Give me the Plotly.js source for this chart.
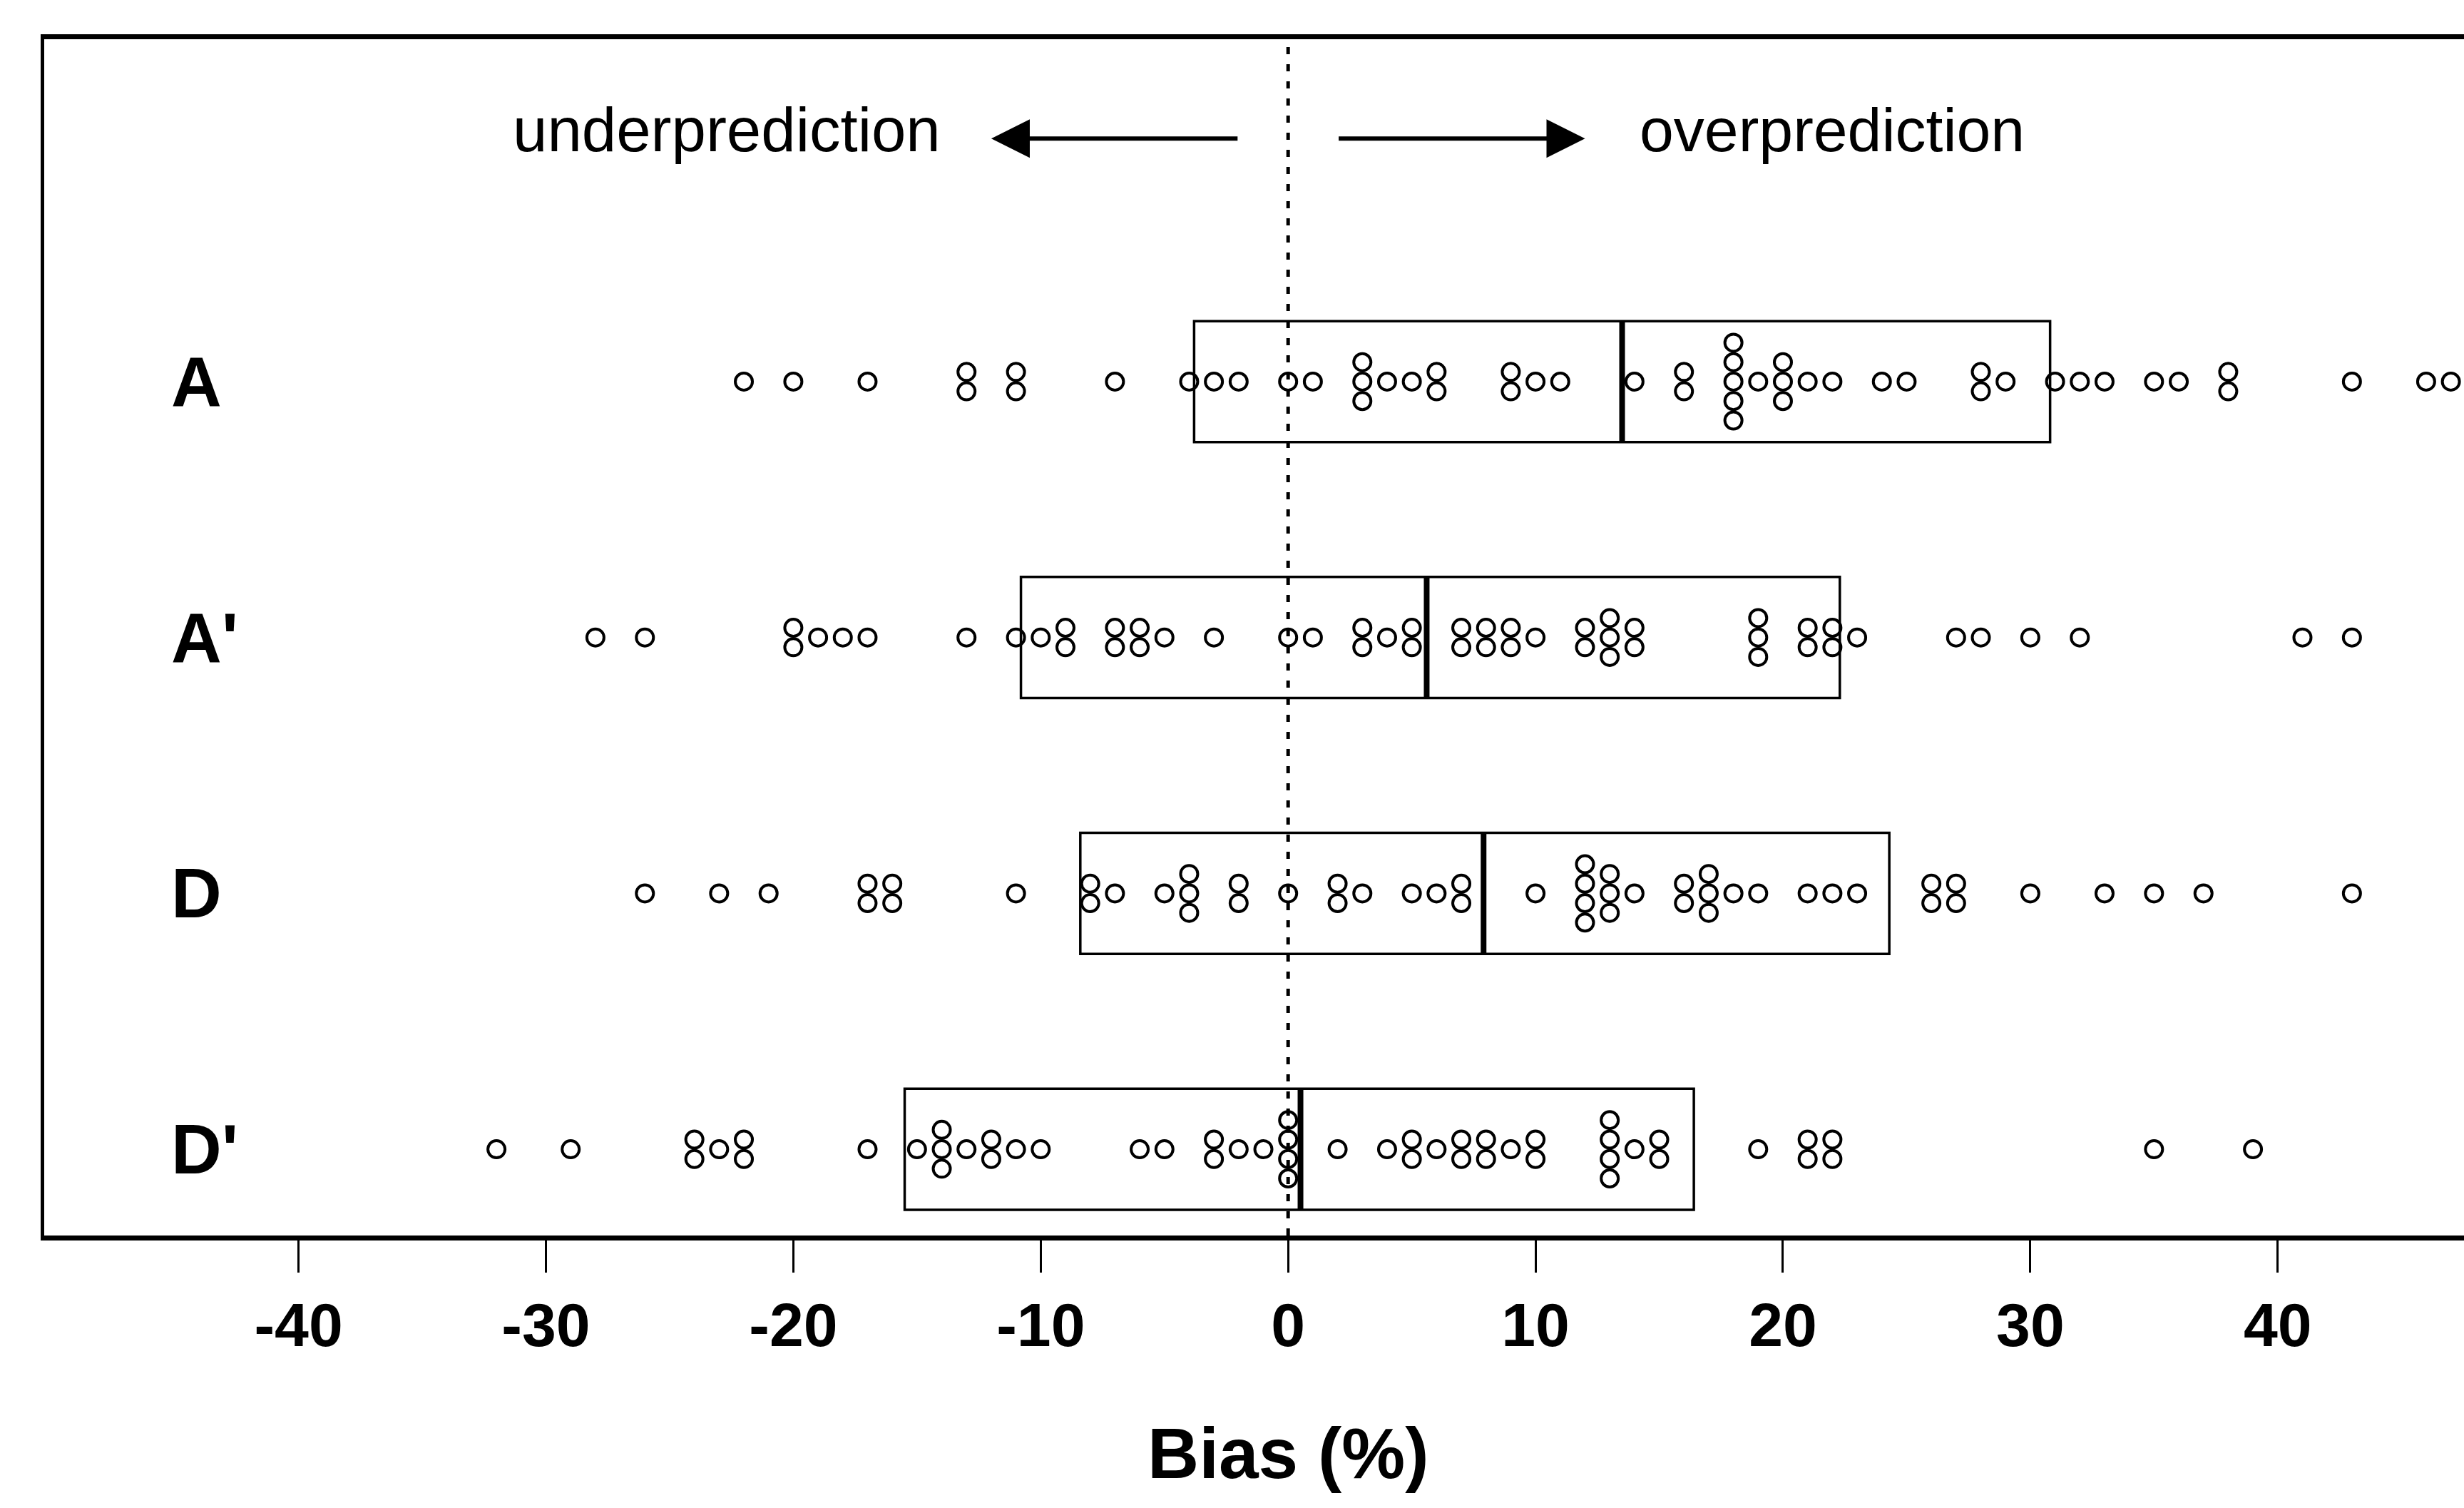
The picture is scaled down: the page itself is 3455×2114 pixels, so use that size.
<!DOCTYPE html>
<html>
<head>
<meta charset="utf-8">
<script src="https://cdn.plot.ly/plotly-3.0.1.min.js"></script>
<style>html,body{margin:0;padding:0;background:#fff;}#chart{width:3455px;height:2114px;}</style>
</head>
<body>
<div id="chart"></div>
<script>
// ---- data ----
const categories = ["A", "A'", "D", "D'"];
const biasA  = [-22, -20, -17, -13, -13, -11, -11, -7, -4, -3, -2, 0, 1, 3, 3, 3, 4, 5, 6, 6, 9, 9, 10, 11, 14, 16, 16, 18, 18, 18, 18, 18, 19, 20, 20, 20, 21, 22, 24, 25, 28, 28, 29, 31, 32, 33, 35, 36, 38, 38, 43, 46, 47];
const biasA1 = [-28, -26, -20, -20, -19, -18, -17, -13, -11, -10, -9, -9, -7, -7, -6, -6, -5, -3, 0, 1, 3, 3, 4, 5, 5, 7, 7, 8, 8, 9, 9, 10, 12, 12, 13, 13, 13, 14, 14, 19, 19, 19, 21, 21, 22, 22, 23, 27, 28, 30, 32, 41, 43];
const biasD  = [-26, -23, -21, -17, -17, -16, -16, -11, -8, -8, -7, -5, -4, -4, -4, -2, -2, 0, 2, 2, 3, 5, 6, 7, 7, 10, 12, 12, 12, 12, 13, 13, 13, 14, 16, 16, 17, 17, 17, 18, 19, 21, 22, 23, 26, 26, 27, 27, 30, 33, 35, 37, 43];
const biasD1 = [-32, -29, -24, -24, -23, -22, -22, -17, -15, -14, -14, -14, -13, -12, -12, -11, -10, -6, -5, -3, -3, -2, -1, 0, 0, 0, 0, 2, 4, 5, 5, 6, 7, 7, 8, 8, 9, 10, 10, 13, 13, 13, 13, 14, 15, 15, 19, 21, 21, 22, 22, 35, 39];
const boxLow    = [-3.8, -10.8, -8.4, -15.5];
const boxMedian = [13.5, 5.6, 7.9, 0.5];
const boxHigh   = [30.8, 22.3, 24.3, 16.4];
const tickValues = [-40, -30, -20, -10, 0, 10, 20, 30, 40];
const tickLabels = ["-40", "-30", "-20", "-10", "0", "10", "20", "30", "40"];
const axisTitle = "Bias (%)";
const leftNote = "underprediction";
const rightNote = "overprediction";

// ---- build ----
const series = [biasA, biasA1, biasD, biasD1];
const N = categories.length;
const rowOf = i => N - i;
const STEP = 0.076;
const HALF = 0.2365;
const FONT = "Liberation Sans, Arial, Helvetica, sans-serif";

const px = [], py = [];
series.forEach((vals, i) => {
  const counts = new Map();
  vals.forEach(v => counts.set(v, (counts.get(v) || 0) + 1));
  counts.forEach((n, v) => {
    for (let k = 0; k < n; k++) {
      px.push(v);
      py.push(rowOf(i) + (k - (n - 1) / 2) * STEP);
    }
  });
});

const rows = categories.map((c, i) => rowOf(i));

const boxTrace = {
  type: 'box', orientation: 'h',
  y: rows, q1: boxLow, median: boxMedian, q3: boxHigh,
  lowerfence: boxLow, upperfence: boxHigh,
  width: 2 * HALF, whiskerwidth: 0, boxpoints: false,
  fillcolor: 'rgba(0,0,0,0)', line: {color: 'black', width: 3.5},
  hoverinfo: 'skip', showlegend: false
};

const mx = [], my = [];
boxMedian.forEach((m, i) => { mx.push(m, m, null); my.push(rowOf(i) - HALF, rowOf(i) + HALF, null); });
const medianTrace = {
  type: 'scatter', mode: 'lines', x: mx, y: my,
  line: {color: 'black', width: 8}, hoverinfo: 'skip', showlegend: false
};

const pointTrace = {
  type: 'scatter', mode: 'markers', x: px, y: py,
  marker: {symbol: 'circle-open', size: 24, color: 'black', line: {color: 'black', width: 4}},
  hoverinfo: 'x', showlegend: false
};

const annotations = categories.map((c, i) => ({
  text: c, xref: 'paper', yref: 'y', x: 0.052, y: rowOf(i),
  xanchor: 'left', yanchor: 'middle', showarrow: false,
  font: {family: FONT, size: 98, color: 'black', weight: 'bold'}
}));
annotations.push(
  {text: leftNote, xref: 'x', yref: 'y', x: -22.7, y: 4.985, showarrow: false,
   font: {family: FONT, size: 87, color: 'black'}},
  {text: rightNote, xref: 'x', yref: 'y', x: 22.0, y: 4.985, showarrow: false,
   font: {family: FONT, size: 86, color: 'black'}},
  {text: '', xref: 'x', yref: 'y', x: -12, y: 4.95, axref: 'x', ayref: 'y', ax: -2, ay: 4.95,
   showarrow: true, arrowhead: 2, arrowsize: 1.8, arrowwidth: 6, arrowcolor: 'black', standoff: 0},
  {text: '', xref: 'x', yref: 'y', x: 12, y: 4.95, axref: 'x', ayref: 'y', ax: 2, ay: 4.95,
   showarrow: true, arrowhead: 2, arrowsize: 1.8, arrowwidth: 6, arrowcolor: 'black', standoff: 0},
  {text: axisTitle, xref: 'x', yref: 'paper', x: 0, y: -0.182, yanchor: 'middle', showarrow: false,
   font: {family: FONT, size: 100, color: 'black', weight: 'bold'}}
);

const layout = {
  width: 3455, height: 2114,
  margin: {l: 62, r: 0, t: 55, b: 382},
  paper_bgcolor: 'white', plot_bgcolor: 'white',
  showlegend: false,
  font: {family: FONT, color: 'black'},
  xaxis: {
    range: [-50.28, 47.53], showgrid: false, zeroline: false,
    showline: true, mirror: true, linecolor: 'black', linewidth: 7,
    ticks: 'outside', ticklen: 45, tickwidth: 3, tickcolor: 'black',
    tickvals: tickValues, ticktext: tickLabels,
    tickfont: {family: FONT, size: 86, color: 'black', weight: 'bold'}
  },
  yaxis: {
    range: [0.663, 5.338], showgrid: false, zeroline: false,
    showline: true, mirror: false, linecolor: 'black', linewidth: 5,
    ticks: '', showticklabels: false
  },
  shapes: [{type: 'line', xref: 'x', yref: 'paper', x0: 0, x1: 0, y0: 0, y1: 1,
            line: {color: 'black', width: 5, dash: '10px,14px'}}],
  annotations: annotations
};

Plotly.newPlot('chart', [boxTrace, medianTrace, pointTrace], layout, {displayModeBar: false, staticPlot: true});
</script>
</body>
</html>
